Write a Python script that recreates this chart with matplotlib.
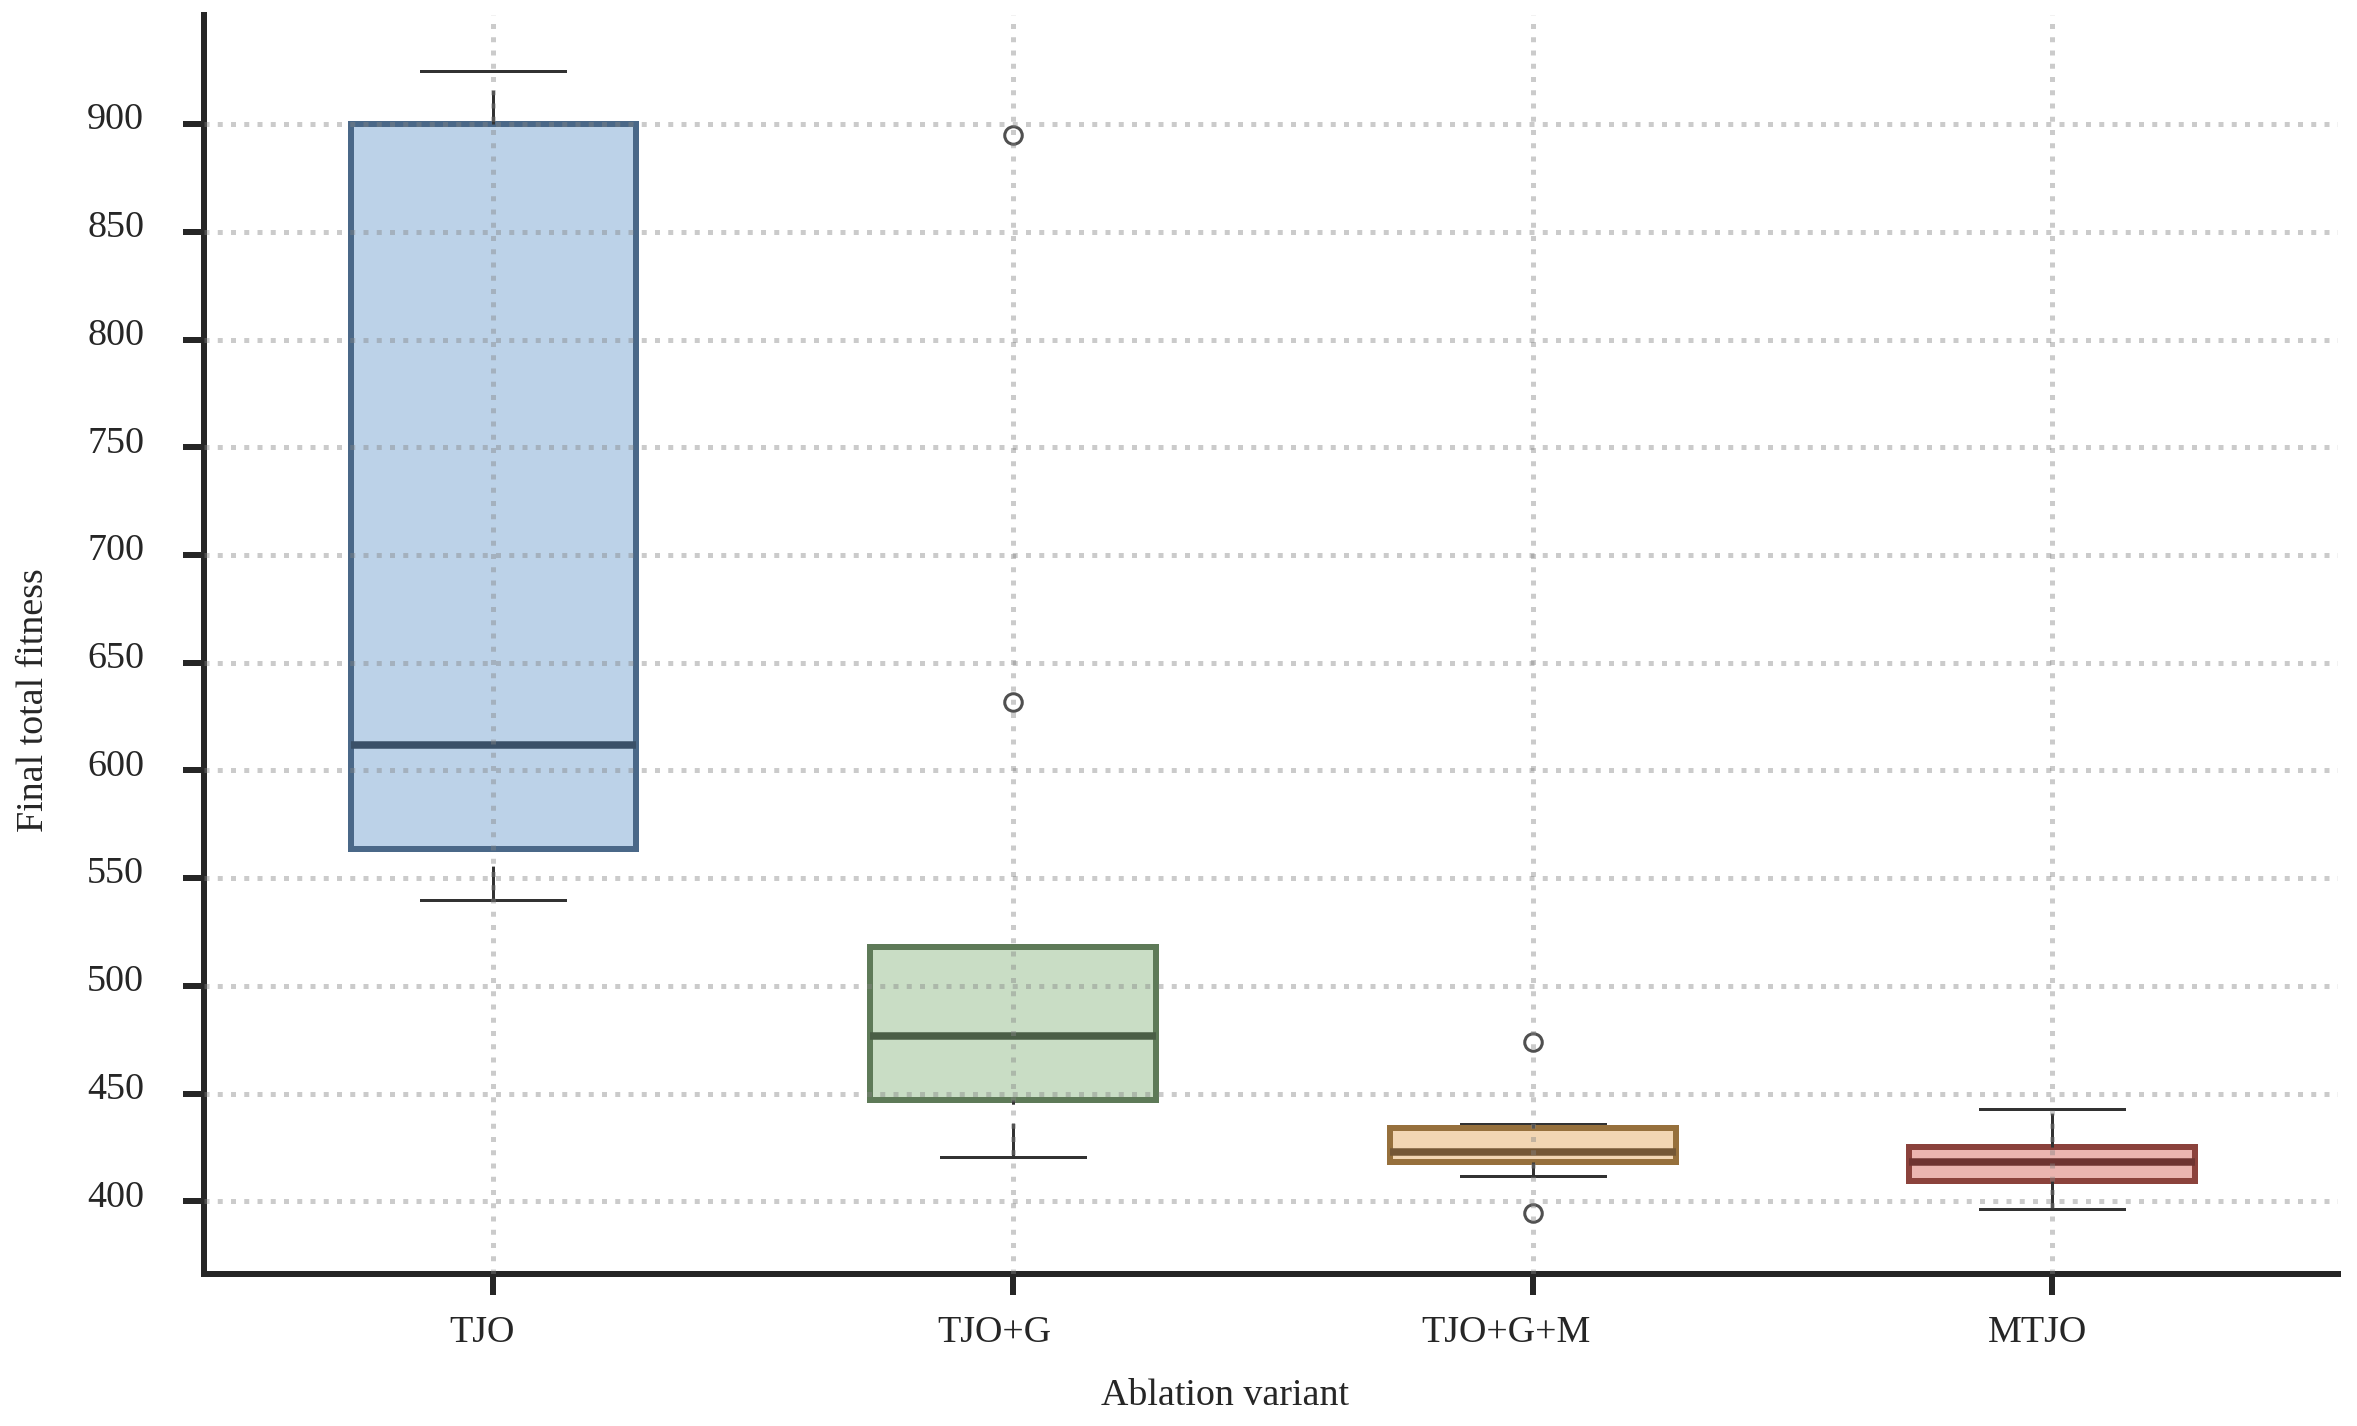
import matplotlib
matplotlib.use("Agg")
import matplotlib.pyplot as plt
import matplotlib.transforms as mtransforms

# box statistics
variants = ["TJO", "TJO+G", "TJO+G+M", "MTJO"]
whislo = [540.0, 420.7, 411.8, 396.3]
q1 = [563.7, 446.9, 418.4, 409.6]
med = [611.6, 476.7, 422.9, 418.1]
q3 = [900.0, 518.2, 433.9, 425.2]
whishi = [924.7, 518.2, 435.8, 442.7]
fliers = [[], [895.0, 631.7], [474.1, 394.4], []]
yticks = [400, 450, 500, 550, 600, 650, 700, 750, 800, 850, 900]

fills = ["#bcd2e8", "#c9ddc5", "#f2d6b3", "#ebb5b0"]
edges = ["#4a6888", "#5e7a58", "#96703c", "#8b423c"]
med_cols = ["#3a5068", "#4a5e46", "#745735", "#6e3431"]

DPI = 200
plt.rcParams["font.family"] = ["Liberation Serif", "DejaVu Serif"]
plt.rcParams["font.size"] = 13.7
dark = "#262626"

fig = plt.figure(figsize=(2357 / DPI, 1426 / DPI), dpi=DPI)
ax = fig.add_axes([0.08655, 0.10659, 0.90539, 0.88289])

stats = []
for i in range(len(variants)):
    stats.append(dict(label=variants[i], whislo=whislo[i], q1=q1[i], med=med[i],
                      q3=q3[i], whishi=whishi[i], fliers=fliers[i]))

pos = list(range(len(variants)))
bp = ax.bxp(stats, positions=pos, widths=0.55, patch_artist=True,
            capwidths=0.277,
            whiskerprops=dict(color="#323232", linewidth=1.08, linestyle=(0, (11.3, 6.3))),
            capprops=dict(color="#323232", linewidth=1.08, zorder=1.9),
            flierprops=dict(marker="o", markerfacecolor="none", markeredgecolor="#505050",
                            markersize=6.3, markeredgewidth=1.1),
            medianprops=dict(linewidth=2.7))

for i, box in enumerate(bp["boxes"]):
    box.set_facecolor(fills[i])
    box.set_edgecolor(edges[i])
    box.set_linewidth(2.16)
    bp["medians"][i].set_color(med_cols[i])
    # lower whisker is dashed starting from the cap
    bp["whiskers"][2 * i].set_ydata([whislo[i], q1[i]])

ax.set_xlim(-0.557, 3.55)
ax.set_ylim(366.25, 950.7)
ax.set_yticks(yticks)
ax.set_xticks(pos)
ax.set_xticklabels(variants)

ax.grid(True, linestyle=":", linewidth=1.8, color="#858585", alpha=0.42)
ax.set_axisbelow(False)

for s in ["top", "right"]:
    ax.spines[s].set_visible(False)
for s in ["left", "bottom"]:
    ax.spines[s].set_linewidth(2.16)
    ax.spines[s].set_color(dark)

ax.tick_params(axis="both", length=7.56, width=2.16, color=dark, labelcolor=dark)
ax.tick_params(axis="y", pad=14)
ax.tick_params(axis="x", pad=7.2)

ax.set_xlabel("Ablation variant", color=dark)
ax.set_ylabel("Final total fitness", color=dark)
ax.xaxis.set_label_coords(0.4785, -0.083)
ax.yaxis.set_label_coords(-0.0717, 0.456)

# small nudges so the labels sit where they do in the reference
for lab in ax.get_yticklabels():
    lab.set_transform(lab.get_transform() + mtransforms.ScaledTranslation(0, 8 / DPI, fig.dpi_scale_trans))
x_nudge = [-11, -19, -27, -15]
for lab, dx in zip(ax.get_xticklabels(), x_nudge):
    lab.set_transform(lab.get_transform() + mtransforms.ScaledTranslation(dx / DPI, 0, fig.dpi_scale_trans))

fig.savefig("out.png", dpi=DPI)
